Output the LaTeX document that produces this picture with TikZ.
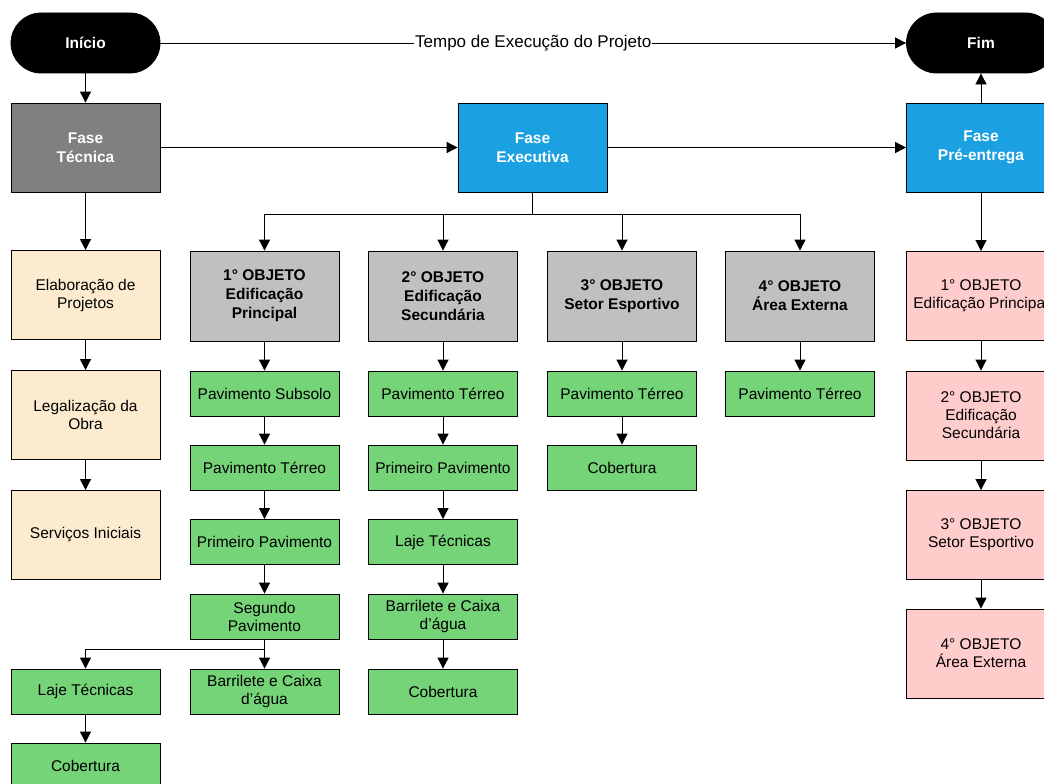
\documentclass[tikz,border=0pt]{standalone}
\usepackage{fontspec}
\setmainfont{Liberation Sans}
\usetikzlibrary{arrows.meta,calc,positioning}

\definecolor{cinzaFase}{RGB}{128,128,128}
\definecolor{azulFase}{RGB}{27,161,226}
\definecolor{cinzaObj}{RGB}{192,192,192}
\definecolor{verdeEtapa}{RGB}{117,211,120}
\definecolor{areia}{RGB}{253,235,208}
\definecolor{rosa}{RGB}{255,204,204}

\begin{document}
\begin{tikzpicture}
[
	                x = 1pt,
	                y = -1pt,
	               >= {Triangle[length=11pt,width=11pt]},
	      line width = 0.8pt,
	every node/.style = { font=\fontsize{15.5}{18}\selectfont, align=center },
	     caixa/.style = { draw=black, minimum width=149pt, inner sep=0pt },
	  terminal/.style = { caixa, fill=black, text=white, rounded corners=30pt, minimum height=60pt,
	                      font=\fontsize{15.5}{18}\selectfont\bfseries },
	      fase/.style = { caixa, text=white, minimum height=89pt,
	                      font=\fontsize{15.5}{19}\selectfont\bfseries },
	    tarefa/.style = { caixa, fill=areia, minimum height=89pt },
	    objeto/.style = { caixa, fill=cinzaObj, minimum height=90pt,
	                      font=\fontsize{15.5}{19}\selectfont\bfseries },
	 pavimento/.style = { caixa, fill=verdeEtapa, minimum height=45pt },
	   entrega/.style = { caixa, fill=rosa, minimum height=89pt }
]
	\clip (0,0) rectangle (1044,784);

	% inicio, fim e fases
	% nodes
	\node (INI) at (85.5,43)    [terminal] {Início};
	\node (FIM) at (981,43)     [terminal] {Fim};
	\node (FT)  at (85.5,147.5) [fase, fill=cinzaFase] {Fase\\Técnica};
	\node (FE)  at (532.5,147.5)[fase, fill=azulFase]  {Fase\\Executiva};
	\node (FP)  at (981,147.5)  [fase, fill=azulFase]  {Fase\\Pré-entrega};

	% edges
	\draw [->] (INI) -- (FIM) node [midway, fill=white, inner sep=1pt, font=\fontsize{17}{20}\selectfont]
		{Tempo de Execução do Projeto};
	\draw [->] (INI) -- (FT);
	\draw [->] (FT) -- (FE);
	\draw [->] (FE) -- (FP);
	\draw [->] (FP) -- (FIM);

	% fase tecnica
	% nodes
	\node (T1) at (85.5,295) [tarefa] {Elaboração de\\Projetos};
	\node (T2) at (85.5,415) [tarefa] {Legalização da\\Obra};
	\node (T3) at (85.5,535) [tarefa] {Serviços Iniciais};

	% edges
	\draw [->] (FT) -- (T1);
	\draw [->] (T1) -- (T2);
	\draw [->] (T2) -- (T3);

	% fase executiva
	% nodes
	\node (O1) at (264.5,296) [objeto] {1° OBJETO\\Edificação\\Principal};
	\node (O2) at (443,296)   [objeto] {2° OBJETO\\Edificação\\Secundária};
	\node (O3) at (622,296)   [objeto] {3° OBJETO\\Setor Esportivo};
	\node (O4) at (800,296)   [objeto] {4° OBJETO\\Área Externa};
	\coordinate (BUS) at (532.5,214);

	% edges
	\draw (FE) -- (BUS);
	\draw [->] (BUS) -| (O1.north);
	\draw [->] (BUS) -| (O2.north);
	\draw [->] (BUS) -| (O3.north);
	\draw [->] (BUS) -| (O4.north);

	% primeiro objeto
	% nodes
	\node (P11) at (264.5,393.5) [pavimento] {Pavimento Subsolo};
	\node (P12) at (264.5,467.5) [pavimento] {Pavimento Térreo};
	\node (P13) at (264.5,542)   [pavimento] {Primeiro Pavimento};
	\node (P14) at (264.5,616.5) [pavimento] {Segundo\\Pavimento};
	\node (P15) at (264.5,691.5) [pavimento] {Barrilete e Caixa\\d’água};
	\node (P16) at (85.5,691.5)  [pavimento] {Laje Técnicas};
	\node (P17) at (85.5,765.5)  [pavimento] {Cobertura};
	\coordinate (DIV) at (264.5,649);

	% edges
	\draw [->] (O1) -- (P11);
	\draw [->] (P11) -- (P12);
	\draw [->] (P12) -- (P13);
	\draw [->] (P13) -- (P14);
	\draw [->] (P14) -- (P15);
	\draw [->] (DIV) -| (P16.north);
	\draw [->] (P16) -- (P17);

	% segundo objeto
	% nodes
	\node (P21) at (443,393.5) [pavimento] {Pavimento Térreo};
	\node (P22) at (443,467.5) [pavimento] {Primeiro Pavimento};
	\node (P23) at (443,542)   [pavimento] {Laje Técnicas};
	\node (P24) at (443,616.5) [pavimento] {Barrilete e Caixa\\d’água};
	\node (P25) at (443,691.5) [pavimento] {Cobertura};

	% edges
	\draw [->] (O2) -- (P21);
	\draw [->] (P21) -- (P22);
	\draw [->] (P22) -- (P23);
	\draw [->] (P23) -- (P24);
	\draw [->] (P24) -- (P25);

	% terceiro e quarto objetos
	% nodes
	\node (P31) at (622,393.5) [pavimento] {Pavimento Térreo};
	\node (P32) at (622,467.5) [pavimento] {Cobertura};
	\node (P41) at (800,393.5) [pavimento] {Pavimento Térreo};

	% edges
	\draw [->] (O3) -- (P31);
	\draw [->] (P31) -- (P32);
	\draw [->] (O4) -- (P41);

	% fase pre-entrega
	% nodes
	\node (E1) at (981,296)   [entrega] {1° OBJETO\\Edificação Principal};
	\node (E2) at (981,415.5) [entrega] {2° OBJETO\\Edificação\\Secundária};
	\node (E3) at (981,535)   [entrega] {3° OBJETO\\Setor Esportivo};
	\node (E4) at (981,653.5) [entrega] {4° OBJETO\\Área Externa};

	% edges
	\draw [->] (FP) -- (E1);
	\draw [->] (E1) -- (E2);
	\draw [->] (E2) -- (E3);
	\draw [->] (E3) -- (E4);
\end{tikzpicture}
\end{document}
